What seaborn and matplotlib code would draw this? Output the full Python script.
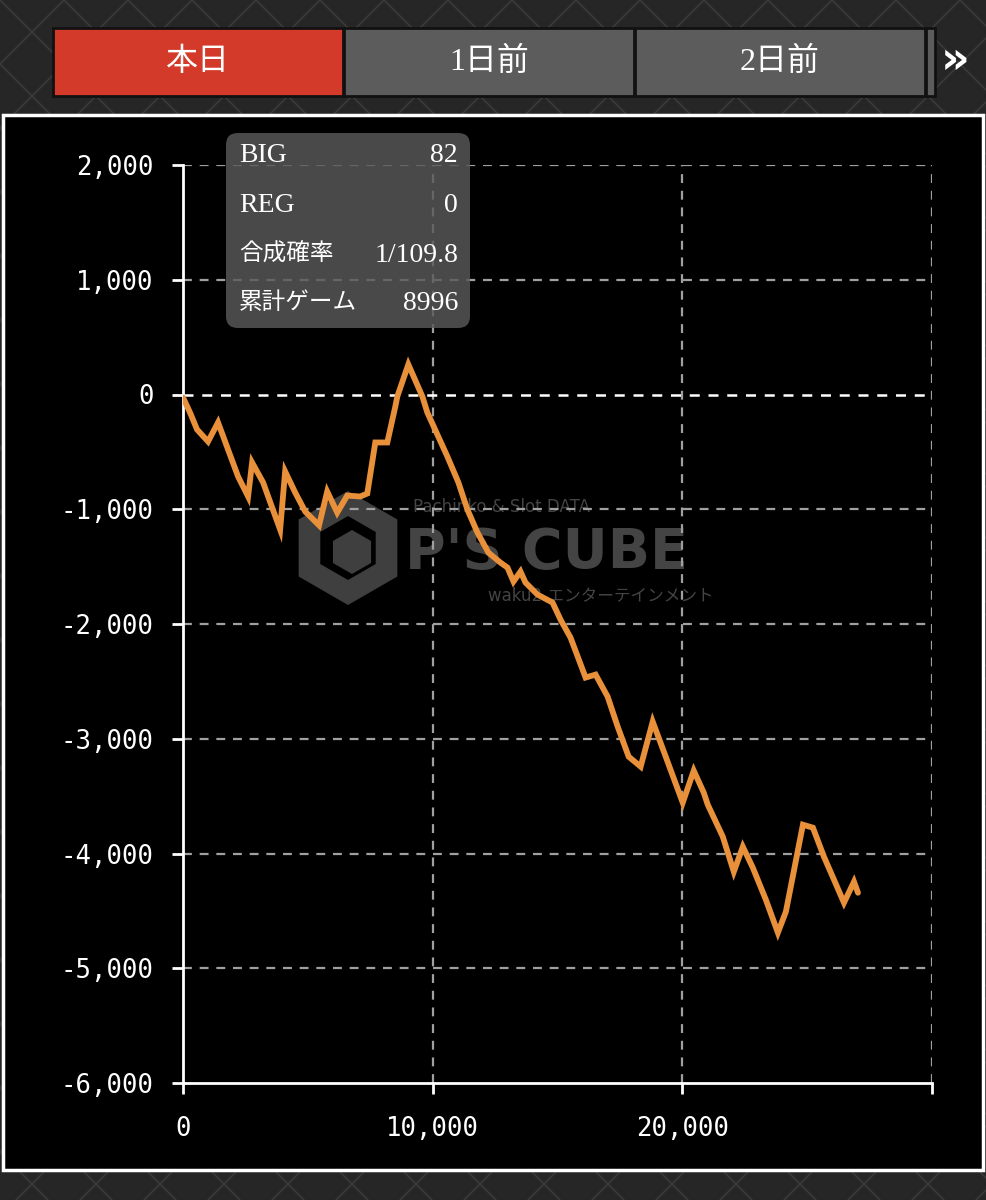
import numpy as np
import pandas as pd
import matplotlib
matplotlib.use("Agg")
import matplotlib.pyplot as plt
import seaborn as sns
from matplotlib.patches import Rectangle, FancyBboxPatch, RegularPolygon
from matplotlib.ticker import FixedLocator, FixedFormatter

# ---------------- data ----------------
games = [0, 281, 562, 1003, 1404, 1805, 2206, 2607, 2768, 3209, 3570, 3891,
         4091, 4493, 4894, 5450, 5776, 6177, 6578, 7100, 7381, 7702, 8183,
         8504, 8584, 9025, 9587, 9787, 10188, 10590, 11031, 11392, 11793,
         12234, 12716, 12996, 13237, 13518, 13718, 14200, 14801, 15122, 15523,
         16125, 16526, 17008, 17409, 17850, 18331, 18813, 19334, 20016, 20457,
         20858, 21019, 21620, 22062, 22423, 22824, 23346, 23827, 24148, 24830,
         25231, 25672, 26073, 26474, 26875, 27035]
coins = [-26, -157, -305, -410, -244, -480, -715, -889, -593, -767, -985, -1177,
         -671, -854, -1020, -1140, -846, -1029, -881, -889, -863, -418, -418,
         -105, -17, 262, -17, -157, -349, -541, -767, -1003, -1203,
         -1378, -1465, -1508, -1630, -1543, -1639, -1744, -1813, -1962, -2119,
         -2467, -2441, -2633, -2894, -3156, -3243, -2851, -3156, -3557, -3278,
         -3470, -3575, -3853, -4159, -3941, -4124, -4403, -4690, -4507, -3749,
         -3775, -4028, -4228, -4429, -4246, -4342]

y_ticks = [2000, 1000, 0, -1000, -2000, -3000, -4000, -5000, -6000]
y_tick_labels = ["2,000", "1,000", "0", "-1,000", "-2,000", "-3,000",
                 "-4,000", "-5,000", "-6,000"]
x_ticks = [0, 10000, 20000, 30000]
x_tick_labels = ["0", "10,000", "20,000", ""]

tabs = ["本日", "1日前", "2日前"]
info_labels = ["BIG", "REG", "合成確率", "累計ゲーム"]
info_values = ["82", "0", "1/109.8", "8996"]

df = pd.DataFrame({"games": games, "coins": coins})

# ---------------- style ----------------
sns.set_theme(style="ticks")
plt.rcParams["font.family"] = ["DejaVu Sans", "Noto Sans CJK JP"]

W, H = 987, 1200
fig = plt.figure(figsize=(W / 100, H / 100), dpi=100)
fig.patch.set_facecolor("#262626")

# background decoration axes (pixel coordinates)
bg = fig.add_axes([0, 0, 1, 1], zorder=0)
bg.set_xlim(0, W)
bg.set_ylim(H, 0)
bg.axis("off")

# metallic argyle pattern
step = 64
for k in range(-30, 40):
    x0 = k * step
    bg.plot([x0, x0 + H], [0, H], color="#3a3a3a", lw=1.2, zorder=0)
    bg.plot([x0, x0 - H], [0, H], color="#3a3a3a", lw=1.2, zorder=0)

serif_cjk = ["Liberation Serif", "Noto Sans CJK JP"]

# tabs
tab_x = [53, 344, 635]
tab_w = 290
tab_colors = ["#d43a29", "#5c5c5c", "#5c5c5c"]
for tx, col, label in zip(tab_x, tab_colors, tabs):
    bg.add_patch(Rectangle((tx, 28), tab_w, 68, facecolor=col,
                           edgecolor="#111111", lw=2, zorder=2))
    bg.text(tx + tab_w / 2, 62, label, color="white", fontsize=23,
            ha="center", va="center", family=serif_cjk, zorder=3)
bg.add_patch(Rectangle((926, 28), 9, 68, facecolor="#5c5c5c",
                       edgecolor="#111111", lw=2, zorder=2))
bg.text(955, 60, "»", color="white", fontsize=32, fontweight="bold",
        ha="center", va="center", zorder=3)

# black chart panel
bg.add_patch(Rectangle((3, 115), 980, 1055, facecolor="black",
                       edgecolor="white", lw=2.5, zorder=2))

# watermark
bg.add_patch(RegularPolygon((348, 548), numVertices=6, radius=57,
                            orientation=0, facecolor="#3f3f3f",
                            edgecolor="none", zorder=3))
bg.add_patch(RegularPolygon((348, 548), numVertices=6, radius=32,
                            orientation=0, facecolor="black",
                            edgecolor="none", zorder=3))
bg.add_patch(RegularPolygon((352, 552), numVertices=6, radius=22,
                            orientation=0, facecolor="#3f3f3f",
                            edgecolor="none", zorder=3))
bg.text(413, 507, "Pachinko & Slot DATA", color="#444444", fontsize=12,
        ha="left", va="center", zorder=3)
bg.text(405, 553, "P'S CUBE", color="#444444", fontsize=40,
        fontweight="bold", ha="left", va="center", zorder=3)
bg.text(488, 595, "waku2 エンターテインメント", color="#444444", fontsize=12,
        ha="left", va="center", zorder=3)

# ---------------- main chart ----------------
ax = fig.add_axes([183 / W, 1 - 1083 / H, (932 - 183) / W, (1083 - 165) / H],
                  zorder=1)
ax.patch.set_visible(False)

grid_kw = dict(color="#a0a0a0", lw=1.6, ls=(0, (4, 3.5)), zorder=1)
for yv in y_ticks:
    if yv == 0 or yv == -6000:
        continue
    ax.axhline(yv, **grid_kw)
for xv in x_ticks[1:]:
    ax.axvline(xv, **grid_kw)
ax.axhline(0, color="white", lw=1.8, ls=(0, (4, 3.5)), zorder=1)

sns.lineplot(data=df, x="games", y="coins", ax=ax, color="#e8903a",
             lw=4.2, zorder=3, solid_joinstyle="miter")

ax.set_xlim(0, 30000)
ax.set_ylim(-6000, 2000)
ax.xaxis.set_major_locator(FixedLocator(x_ticks))
ax.xaxis.set_major_formatter(FixedFormatter(x_tick_labels))
ax.yaxis.set_major_locator(FixedLocator(y_ticks))
ax.yaxis.set_major_formatter(FixedFormatter(y_tick_labels))
ax.set_xlabel("")
ax.set_ylabel("")
for s in ["top", "right"]:
    ax.spines[s].set_visible(False)
for s in ["left", "bottom"]:
    ax.spines[s].set_color("white")
    ax.spines[s].set_linewidth(2)
ax.tick_params(axis="both", colors="white", length=8, width=2,
               labelsize=18.5, direction="out")
ax.tick_params(axis="x", pad=16)
ax.tick_params(axis="y", pad=13)
for lab in ax.get_xticklabels() + ax.get_yticklabels():
    lab.set_family("DejaVu Sans Mono")
    lab.set_color("white")

# ---------------- info box overlay ----------------
ov = fig.add_axes([0, 0, 1, 1], zorder=5)
ov.set_xlim(0, W)
ov.set_ylim(H, 0)
ov.axis("off")
ov.patch.set_visible(False)
ov.add_patch(FancyBboxPatch((226, 133), 244, 195,
                            boxstyle="round,pad=0,rounding_size=12",
                            facecolor="#5a5a5a", alpha=0.82,
                            edgecolor="none"))


def _fs(s):
    return 17 if any(ord(c) > 0x2000 for c in s) else 20


row_y = [156, 205, 255, 303]
for ry, lab, val in zip(row_y, info_labels, info_values):
    ov.text(239, ry, lab, color="white", fontsize=_fs(lab), ha="left",
            va="center", family=serif_cjk)
    ov.text(458, ry, val, color="white", fontsize=_fs(val), ha="right",
            va="center", family=serif_cjk)

fig.savefig("out.png", dpi=100, facecolor=fig.get_facecolor())
